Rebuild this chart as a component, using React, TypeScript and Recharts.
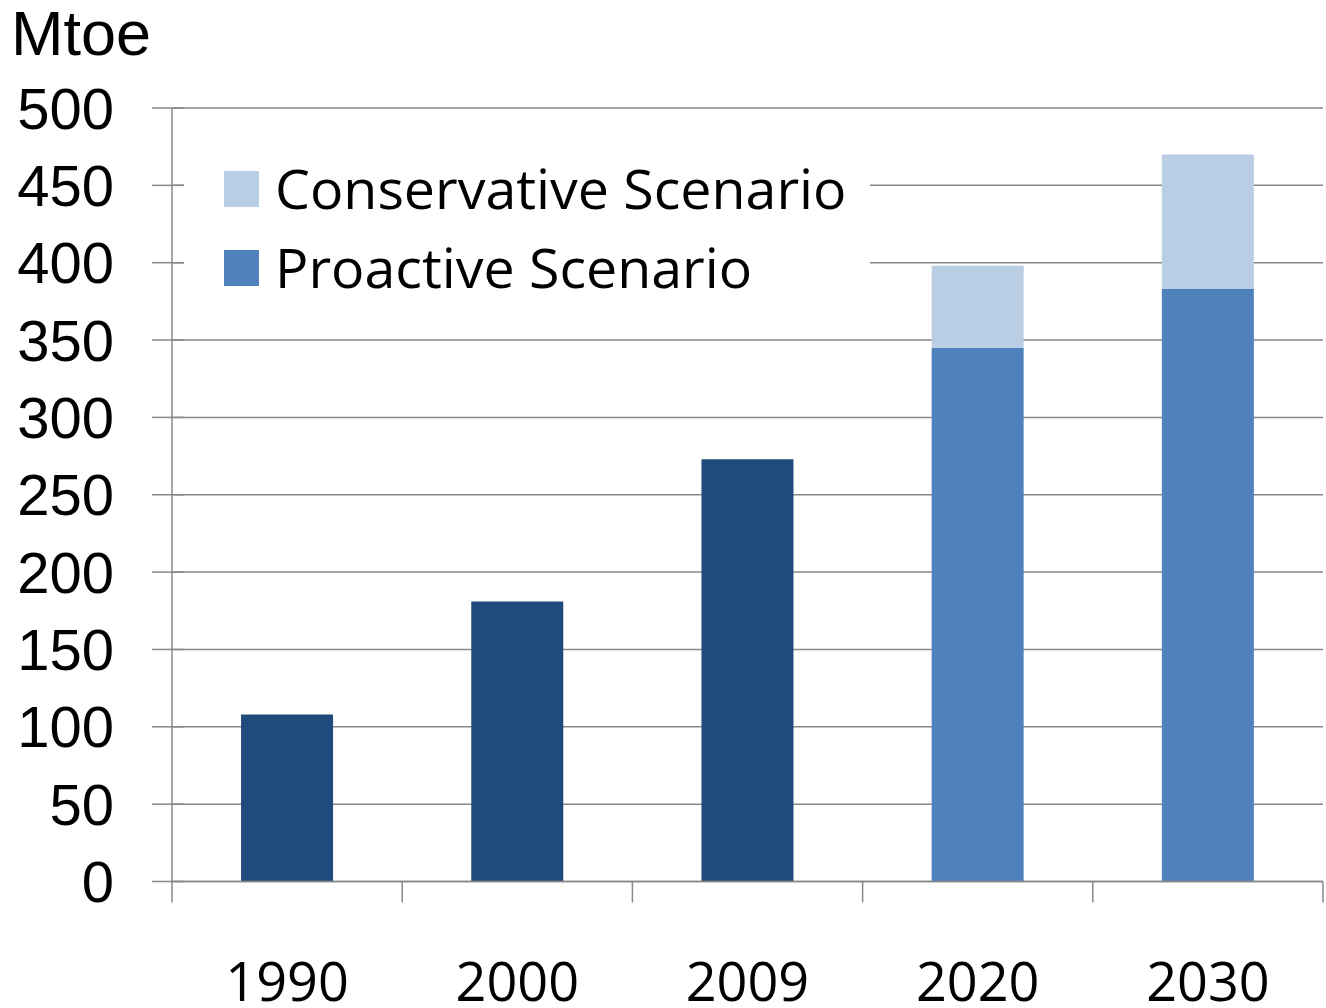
import React from 'react';
import { BarChart, Bar, XAxis, YAxis, CartesianGrid, Legend } from 'recharts';

const years = ['1990', '2000', '2009', '2020', '2030'];
const historical = [108, 181, 273, null, null];
const proactive = [null, null, null, 345, 383];
const conservative = [null, null, null, 398, 470];
const yTicks = [0, 50, 100, 150, 200, 250, 300, 350, 400, 450, 500];

const legendItems = [
  { name: 'Conservative Scenario', color: '#B9CDE5' },
  { name: 'Proactive Scenario', color: '#4F81BD' },
];

const HIST_COLOR = '#204A7C';
const PRO_COLOR = '#4F81BD';
const CON_COLOR = '#B9CDE5';
const GRID = '#888888';

// conservative is stacked on proactive, so only the extra part is drawn
const data = years.map((year, i) => {
  const p = proactive[i];
  const c = conservative[i];
  return {
    year,
    historical: historical[i],
    proactive: p,
    conservativeExtra: p != null && c != null ? c - p : null,
  };
});

function YTick(props: any) {
  const { x, y, payload } = props;
  return (
    <g>
      <line x1={x - 20} x2={x + 12} y1={y} y2={y} stroke={GRID} strokeWidth={1.5} />
      <text
        x={x - 58}
        y={y}
        dy="0.355em"
        textAnchor="end"
        fontFamily="'Liberation Sans', Arial, sans-serif"
        fontSize={58}
        fill="#000"
      >
        {payload.value}
      </text>
    </g>
  );
}

function XTick(props: any) {
  const { x, y, payload, index } = props;
  const half = payload.offset ?? 0;
  const last = index === years.length - 1;
  return (
    <g>
      <line x1={x - half} x2={x - half} y1={y} y2={y + 21} stroke={GRID} strokeWidth={1.5} />
      {last && (
        <line x1={x + half} x2={x + half} y1={y} y2={y + 21} stroke={GRID} strokeWidth={1.5} />
      )}
      <text
        x={x}
        y={y + 119.5}
        textAnchor="middle"
        fontFamily="'Open Sans', sans-serif"
        fontSize={54}
        fill="#000"
      >
        {payload.value}
      </text>
    </g>
  );
}

function LegendBox() {
  return (
    <svg width={686} height={185} style={{ display: 'block' }}>
      {legendItems.map((item, i) => (
        <g key={item.name}>
          <rect x={40} y={43 + i * 79} width={35} height={36} fill={item.color} />
          <text
            x={91}
            y={81 + i * 79}
            fontFamily="'Open Sans', sans-serif"
            fontSize={55.5}
            fill="#000"
          >
            {item.name}
          </text>
        </g>
      ))}
    </svg>
  );
}

export default function App() {
  return (
    <div style={{ position: 'absolute', left: 0, top: 0, width: 1326, height: 1008, background: '#fff' }}>
      <svg width={200} height={80} style={{ position: 'absolute', left: 0, top: 0 }}>
        <text x={11} y={55} fontFamily="'Liberation Sans', Arial, sans-serif" fontSize={63} fill="#000">
          Mtoe
        </text>
      </svg>
      <BarChart
        width={1326}
        height={1008}
        data={data}
        margin={{ top: 108, right: 3, bottom: 0, left: 0 }}
        barCategoryGap="30%"
      >
        <CartesianGrid vertical={false} stroke={GRID} strokeWidth={1.5} />
        <XAxis
          dataKey="year"
          height={126.5}
          tickLine={false}
          tickSize={0}
          tickMargin={0}
          axisLine={{ stroke: GRID, strokeWidth: 1.5 }}
          tick={<XTick />}
          interval={0}
        />
        <YAxis
          width={172}
          domain={[0, 500]}
          ticks={yTicks}
          tickLine={false}
          tickSize={0}
          tickMargin={0}
          axisLine={{ stroke: GRID, strokeWidth: 1.5 }}
          tick={<YTick />}
          interval={0}
        />
        <Legend
          layout="vertical"
          align="center"
          verticalAlign="middle"
          wrapperStyle={{ left: 184, top: 128, width: 686, height: 185, background: '#fff' }}
          content={() => <LegendBox />}
        />
        <Bar dataKey="historical" stackId="a" fill={HIST_COLOR} isAnimationActive={false} />
        <Bar dataKey="proactive" stackId="a" fill={PRO_COLOR} isAnimationActive={false} />
        <Bar dataKey="conservativeExtra" stackId="a" fill={CON_COLOR} isAnimationActive={false} />
      </BarChart>
    </div>
  );
}
